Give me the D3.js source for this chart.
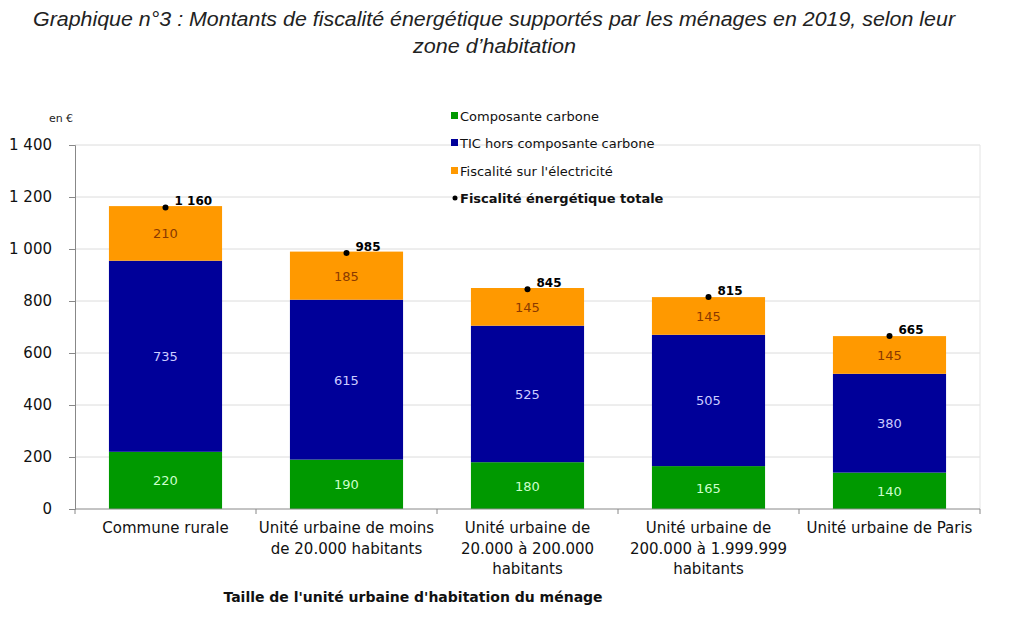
<!DOCTYPE html>
<html><head><meta charset="utf-8">
<script src="https://cdn.jsdelivr.net/npm/d3@7"></script>
<style>
body{margin:0;background:#fff;}
text{font-family:"DejaVu Sans",sans-serif;}
</style></head>
<body><svg id="c" width="1024" height="617"></svg>
<script>
const categories = [
  ["Commune rurale"],
  ["Unité urbaine de moins","de 20.000 habitants"],
  ["Unité urbaine de","20.000 à 200.000","habitants"],
  ["Unité urbaine de","200.000 à 1.999.999","habitants"],
  ["Unité urbaine de Paris"]
];
const carbone = [220, 190, 180, 165, 140];
const ticHors = [735, 615, 525, 505, 380];
const electricite = [210, 185, 145, 145, 145];
const totals = [1160, 985, 845, 815, 665];
const totalLabels = ["1 160", "985", "845", "815", "665"];
const yTicks = [0, 200, 400, 600, 800, 1000, 1200, 1400];
const seriesNames = ["Composante carbone", "TIC hors composante carbone", "Fiscalité sur l'électricité"];
const totalName = "Fiscalité énergétique totale";

(function(){
const svg = d3.select("#c");
const pL = 75, pR = 980, pT = 145, pB = 509;
const fmt = v => v >= 1000 ? String(v).replace(/\B(?=(\d{3})+(?!\d))/g, " ") : String(v);

const x = d3.scaleBand().domain(d3.range(categories.length)).range([pL, pR]).paddingInner(0.375).paddingOuter(0.1875);
const y = d3.scaleLinear().domain([0, 1400]).range([pB, pT]);

// Title
const tStyle = s => s.style("font-family","'Liberation Sans',Arial,sans-serif").style("font-style","italic")
  .style("font-size","20px").attr("fill","#222").attr("text-anchor","middle").attr("lengthAdjust","spacingAndGlyphs");
svg.append("text").call(tStyle).attr("x",494).attr("y",26).attr("textLength",922)
  .text("Graphique n°3 : Montants de fiscalité énergétique supportés par les ménages en 2019, selon leur");
svg.append("text").call(tStyle).attr("x",494.5).attr("y",53).attr("textLength",163)
  .text("zone d\u2019habitation");

// gridlines
svg.append("g").selectAll("line").data(yTicks.filter(t=>t>0)).join("line")
  .attr("x1",pL).attr("x2",pR).attr("y1",d=>y(d)).attr("y2",d=>y(d))
  .attr("stroke","#dcdcdc").attr("stroke-width",1);
svg.append("line").attr("x1",pR).attr("x2",pR).attr("y1",pT).attr("y2",pB).attr("stroke","#e4e4e4");

// y axis
const yAxis = svg.append("g").attr("transform",`translate(${pL},0)`)
  .call(d3.axisLeft(y).tickValues(yTicks).tickFormat(fmt).tickSizeOuter(0).tickSize(6).tickPadding(17));
yAxis.select(".domain").attr("stroke","#888");
yAxis.selectAll(".tick line").attr("stroke","#888");
yAxis.selectAll("text").style("font-family","'DejaVu Sans',sans-serif").style("font-size","15px").attr("fill","#111");

svg.append("text").attr("x",61).attr("y",122).attr("text-anchor","middle").style("font-size","11px").attr("fill","#222").text("en €");

// stacked data
const stackData = categories.map((c,i)=>({i, a:carbone[i], b:ticHors[i], c:electricite[i]}));
const stack = d3.stack().keys(["a","b","c"])(stackData);
const colors = ["#009900","#000099","#ff9900"];
const labelColors = ["#ccffcc","#ccccff","#8a3a00"];

stack.forEach((layer,k)=>{
  const g = svg.append("g");
  g.selectAll("rect").data(layer).join("rect")
    .attr("x",d=>x(d.data.i)).attr("width",x.bandwidth())
    .attr("y",d=>y(d[1])).attr("height",d=>y(d[0])-y(d[1]))
    .attr("fill",colors[k]);
  g.selectAll("text").data(layer).join("text")
    .attr("x",d=>x(d.data.i)+x.bandwidth()/2)
    .attr("y",d=>(y(d[0])+y(d[1]))/2+5)
    .attr("text-anchor","middle").style("font-size","13px")
    .attr("fill",labelColors[k])
    .text(d=>d[1]-d[0]);
});

// x axis
const xAxis = svg.append("g").attr("transform",`translate(0,${pB})`);
xAxis.append("line").attr("x1",pL).attr("x2",pR).attr("stroke","#888");
const bounds = d3.range(categories.length+1).map(i=>pL + i*(pR-pL)/categories.length);
xAxis.selectAll("line.t").data(bounds).join("line").attr("class","t")
  .attr("x1",d=>d).attr("x2",d=>d).attr("y1",0).attr("y2",5).attr("stroke","#888");
categories.forEach((lines,i)=>{
  const t = svg.append("text").attr("text-anchor","middle").style("font-size","15px").attr("fill","#111");
  lines.forEach((l,j)=>t.append("tspan").attr("x",x(i)+x.bandwidth()/2).attr("y",533+j*20.5).text(l));
});
svg.append("text").attr("x",413).attr("y",602).attr("text-anchor","middle")
  .style("font-size","14px").style("font-weight","bold").attr("fill","#111")
  .text("Taille de l'unité urbaine d'habitation du ménage");

// totals
const tg = svg.append("g");
tg.selectAll("circle").data(totals).join("circle")
  .attr("cx",(d,i)=>x(i)+x.bandwidth()/2).attr("cy",d=>y(d)).attr("r",3).attr("fill","#000");
tg.selectAll("text").data(totals).join("text")
  .attr("x",(d,i)=>x(i)+x.bandwidth()/2+9).attr("y",d=>y(d)-2)
  .style("font-size","12px").style("font-weight","bold").attr("fill","#000")
  .text((d,i)=>totalLabels[i]);

// legend
const lg = svg.append("g");
const ly = [116, 143, 171, 198];
seriesNames.forEach((n,k)=>{
  lg.append("rect").attr("x",451).attr("y",ly[k]-4).attr("width",7).attr("height",7).attr("fill",colors[k]);
  lg.append("text").attr("x",460).attr("y",ly[k]+4.5).style("font-size","13px").attr("fill","#111").text(n);
});
lg.append("circle").attr("cx",455).attr("cy",ly[3]).attr("r",2.5).attr("fill","#000");
lg.append("text").attr("x",460).attr("y",ly[3]+4.5).style("font-size","13px").style("font-weight","bold").attr("fill","#111").text(totalName);
})();
</script></body></html>
